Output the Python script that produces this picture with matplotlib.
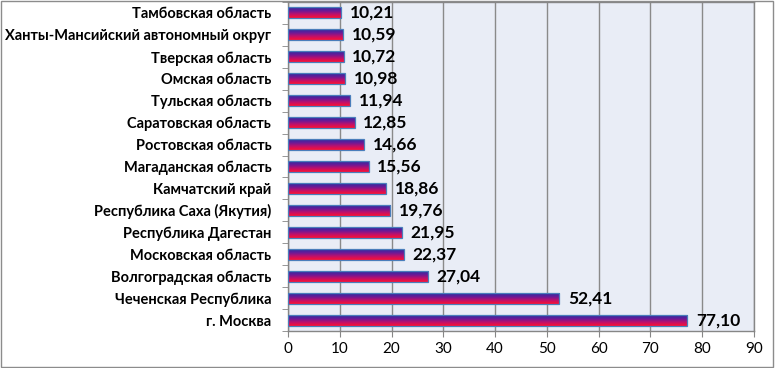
import matplotlib
matplotlib.use("Agg")
import matplotlib.pyplot as plt
import numpy as np
from matplotlib.colors import LinearSegmentedColormap
from matplotlib.patches import Rectangle

regions = ["Тамбовская область", "Ханты-Мансийский автономный округ", "Тверская область",
           "Омская область", "Тульская область", "Саратовская область", "Ростовская область",
           "Магаданская область", "Камчатский край", "Республика Саха (Якутия)",
           "Республика Дагестан", "Московская область", "Волгоградская область",
           "Чеченская Республика", "г. Москва"]
values = [10.21, 10.59, 10.72, 10.98, 11.94, 12.85, 14.66, 15.56, 18.86, 19.76,
          21.95, 22.37, 27.04, 52.41, 77.10]
value_labels = ["10,21", "10,59", "10,72", "10,98", "11,94", "12,85", "14,66", "15,56",
                "18,86", "19,76", "21,95", "22,37", "27,04", "52,41", "77,10"]
xticks = [0, 10, 20, 30, 40, 50, 60, 70, 80, 90]

plt.rcParams['font.family'] = ['Lato', 'DejaVu Sans']

fig = plt.figure(figsize=(7.75, 3.68), dpi=100)
fig.patches.append(Rectangle((0.001, 0.002), 0.997, 0.995, transform=fig.transFigure,
                             fill=False, edgecolor='#8c8c8c', linewidth=1.0))
ax = fig.add_axes([288/775, 37/368, 466/775, 329/368])
ax.set_facecolor('#E9EDF6')

cmap = LinearSegmentedColormap.from_list('g', ['#2A2FA0', '#6A1A98', '#C0106A', '#FF1030'])
grad = np.linspace(0, 1, 64).reshape(-1, 1)

n = len(values)
h = 0.5
ax.set_xlim(0, 90)
ax.set_ylim(n - 0.5, -0.5)
for i, (v, lab) in enumerate(zip(values, value_labels)):
    ax.imshow(grad, cmap=cmap, aspect='auto', extent=[0, v, i + h/2, i - h/2],
              interpolation='bilinear', zorder=3)
    ax.add_patch(Rectangle((0, i - h/2), v, h, fill=False, edgecolor='#4A7EBB',
                           linewidth=0.9, zorder=4))
    ax.text(v + 1.7, i, lab, va='center', ha='left', fontsize=12.5, fontweight='bold',
            color='black', zorder=5)

ax.set_xlim(0, 90)
ax.set_ylim(n - 0.5, -0.5)
ax.set_xticks(xticks)
ax.set_xticklabels([str(t) for t in xticks], fontsize=11)
ax.set_yticks(range(n))
ax.set_yticklabels(regions, fontsize=10.5, fontweight='bold')
ax.set_yticks(np.arange(-0.5, n, 1), minor=True)
ax.tick_params(axis='y', which='major', length=0, pad=12)
ax.tick_params(axis='y', which='minor', length=4, color='#868686', direction='out')
ax.tick_params(axis='x', which='major', length=4, color='#868686', direction='out', pad=4)
ax.grid(axis='x', color='#8a8a8a', linewidth=1.0, zorder=1)
ax.set_axisbelow(True)
for s in ax.spines.values():
    s.set_color('#868686')
    s.set_linewidth(1.0)

fig.savefig('out.png', dpi=100)
